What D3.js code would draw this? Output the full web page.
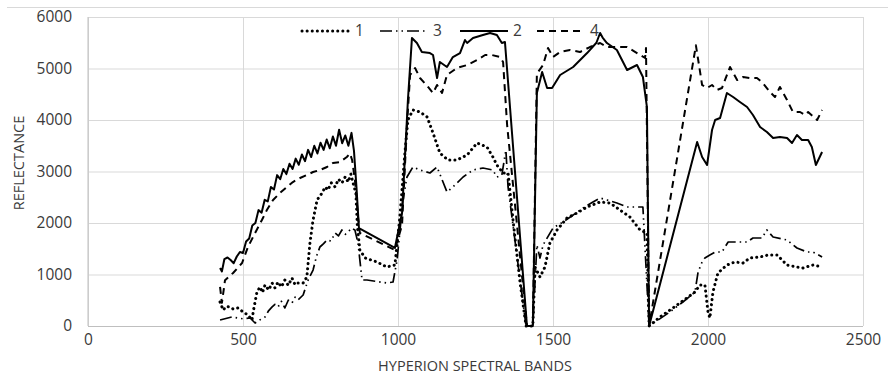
<!DOCTYPE html>
<html>
<head>
<meta charset="utf-8">
<script src="https://cdn.jsdelivr.net/npm/d3@7"></script>
<style>
  body { margin: 0; background: #fff; }
  svg text { font-family: 'Open Sans', sans-serif; fill: #3a3a3a; }
</style>
</head>
<body>
<svg id="chart" width="888" height="376"></svg>
<script>
// series: [wavelength, reflectance]
const series1 = [[426,466],[436,310],[446,380],[458,370],[468,330],[484,350],[500,272],[516,214],[529,116],[534,310],[545,660],[555,757],[563,650],[571,796],[583,700],[594,835],[603,740],[613,854],[624,760],[635,893],[646,790],[658,932],[668,800],[677,835],[694,835],[706,951],[716,1612],[726,2058],[739,2447],[755,2582],[765,2700],[774,2641],[785,2780],[797,2700],[808,2850],[819,2777],[830,2900],[839,2796],[848,2950],[855,2777],[864,2582],[869,1922],[877,1476],[894,1320],[932,1243],[964,1146],[990,1184],[1006,2117],[1023,3417],[1032,4000],[1048,4194],[1071,4155],[1094,4058],[1113,3747],[1135,3359],[1161,3223],[1190,3223],[1223,3320],[1255,3553],[1287,3476],[1306,3282],[1319,3126],[1339,2971],[1355,2971],[1371,2058],[1394,835],[1413,0],[1435,0],[1442,1146],[1458,951],[1474,1146],[1490,1612],[1513,1864],[1545,2097],[1577,2194],[1610,2311],[1652,2408],[1684,2388],[1716,2252],[1748,2117],[1781,1864],[1803,1806],[1810,0],[1845,175],[1887,350],[1932,544],[1958,660],[1974,796],[1990,796],[2000,272],[2006,155],[2016,660],[2032,1029],[2061,1184],[2087,1243],[2113,1223],[2135,1320],[2168,1340],[2194,1379],[2223,1379],[2255,1184],[2287,1146],[2306,1126],[2339,1184],[2368,1146]]

const series2 = [[426,1126],[432,1060],[440,1300],[450,1330],[460,1280],[470,1220],[480,1350],[490,1437],[500,1417],[510,1640],[520,1700],[530,1950],[540,2000],[550,2250],[560,2200],[570,2450],[580,2420],[590,2700],[600,2650],[610,2930],[620,2850],[630,3050],[640,2950],[650,3150],[660,3050],[670,3250],[680,3130],[690,3330],[700,3200],[710,3420],[720,3280],[730,3500],[740,3350],[750,3560],[760,3420],[770,3620],[780,3450],[790,3680],[800,3500],[810,3810],[820,3550],[830,3700],[840,3500],[850,3750],[858,3400],[866,2700],[874,1900],[990,1515],[1013,2194],[1032,4388],[1045,5592],[1061,5495],[1077,5320],[1103,5300],[1113,5262],[1126,4815],[1135,5126],[1158,5029],[1177,5223],[1200,5300],[1216,5553],[1223,5495],[1242,5592],[1274,5650],[1297,5689],[1319,5650],[1335,5495],[1345,5514],[1416,0],[1435,0],[1448,4524],[1465,4932],[1481,4621],[1497,4621],[1523,4874],[1565,5029],[1610,5300],[1640,5500],[1652,5689],[1660,5600],[1674,5495],[1706,5359],[1739,4971],[1771,5068],[1790,4835],[1803,4252],[1810,0],[1965,3573],[1981,3282],[1997,3126],[2013,3806],[2023,4000],[2039,4039],[2061,4524],[2081,4447],[2103,4350],[2126,4252],[2145,4097],[2168,3864],[2190,3767],[2210,3650],[2232,3670],[2255,3650],[2271,3553],[2287,3709],[2303,3612],[2323,3612],[2335,3476],[2348,3126],[2368,3379]]

const series3 = [[426,116],[464,175],[500,140],[523,155],[539,58],[555,120],[571,175],[583,300],[594,370],[603,420],[613,370],[624,480],[635,350],[646,500],[658,446],[668,560],[677,505],[694,602],[710,893],[726,1087],[737,1350],[748,1534],[760,1600],[771,1670],[784,1650],[797,1806],[808,1750],[819,1864],[830,1780],[839,1825],[850,1900],[861,1864],[871,1612],[884,893],[900,893],[964,835],[984,854],[997,1282],[1016,2447],[1029,2893],[1048,3087],[1071,3029],[1103,2971],[1126,3087],[1158,2602],[1177,2700],[1210,2893],[1242,3029],[1274,3068],[1306,3029],[1319,2893],[1335,2932],[1348,3417],[1355,2700],[1413,0],[1435,0],[1448,1573],[1458,1320],[1468,1573],[1500,1903],[1532,2019],[1565,2155],[1597,2291],[1629,2408],[1652,2485],[1674,2447],[1706,2388],[1739,2311],[1765,2311],[1790,2311],[1810,0],[1877,272],[1919,466],[1958,660],[1968,1048],[1981,1243],[1990,1320],[2006,1379],[2023,1437],[2045,1437],[2065,1631],[2094,1631],[2126,1631],[2145,1709],[2174,1709],[2190,1864],[2210,1728],[2255,1670],[2287,1515],[2319,1437],[2339,1437],[2368,1340]]

const series4 = [[426,760],[432,450],[442,890],[468,1030],[497,1223],[516,1534],[539,1806],[561,2058],[577,2252],[597,2447],[619,2582],[642,2700],[661,2796],[684,2874],[706,2932],[726,2990],[748,3029],[771,3087],[790,3165],[813,3184],[835,3282],[845,3350],[852,3223],[861,2835],[871,2117],[877,1806],[990,1476],[1013,1960],[1029,3903],[1039,4874],[1055,5010],[1071,4815],[1097,4641],[1113,4524],[1126,4680],[1142,4524],[1158,4874],[1190,5010],[1223,5068],[1255,5165],[1281,5262],[1303,5262],[1329,5223],[1339,5126],[1352,3903],[1416,0],[1435,0],[1448,4900],[1468,5068],[1484,5398],[1500,5223],[1523,5320],[1555,5359],[1587,5320],[1619,5417],[1652,5495],[1674,5417],[1706,5417],[1739,5417],[1771,5300],[1797,5204],[1800,5398],[1810,0],[1961,5450],[1981,4680],[1997,4621],[2013,4680],[2029,4583],[2045,4621],[2071,5029],[2094,4777],[2113,4835],[2135,4815],[2158,4815],[2177,4718],[2200,4544],[2216,4447],[2232,4641],[2255,4388],[2274,4155],[2297,4155],[2313,4097],[2323,4155],[2352,4000],[2368,4194]]

const xTicks = [0, 500, 1000, 1500, 2000, 2500]
const yTicks = [0, 1000, 2000, 3000, 4000, 5000, 6000]
const legendNames = ['1', '3', '2', '4']

const svg = d3.select('#chart')
let x = d3.scaleLinear().domain([0, 2500]).range([88, 863])
let y = d3.scaleLinear().domain([0, 6000]).range([326, 17])

// top frame line
svg.append('line').attr('x1', 7).attr('x2', 888).attr('y1', 7.5).attr('y2', 7.5)
  .attr('stroke', '#d9d9d9')

// gridlines
let gx = svg.append('g').attr('transform', 'translate(0,' + 326 + ')')
  .call(d3.axisBottom(x).tickValues(xTicks).tickSize(-309).tickFormat(''))
gx.select('.domain').remove()
gx.selectAll('line').attr('stroke', '#d9d9d9')
let gy = svg.append('g').attr('transform', 'translate(88,0)')
  .call(d3.axisLeft(y).tickValues(yTicks).tickSize(-775).tickFormat(''))
gy.select('.domain').remove()
gy.selectAll('line').attr('stroke', '#d9d9d9')

// axis lines
svg.append('line').attr('x1', 88).attr('x2', 88).attr('y1', y(6000)).attr('y2', y(0)).attr('stroke', '#bfbfbf')
svg.append('line').attr('x1', 88).attr('x2', 863).attr('y1', y(0) + 0.5).attr('y2', y(0) + 0.5).attr('stroke', '#bfbfbf')

// tick labels
let fmt = d3.format('d')
let ax = svg.append('g').attr('transform', 'translate(0,326)')
  .call(d3.axisBottom(x).tickValues(xTicks).tickFormat(fmt).tickSize(0).tickPadding(8))
ax.select('.domain').remove()
ax.selectAll('text').attr('font-size', '15.5px').attr('fill', '#3a3a3a').attr('font-family', 'Open Sans')
let ay = svg.append('g').attr('transform', 'translate(88,0)')
  .call(d3.axisLeft(y).tickValues(yTicks).tickFormat(fmt).tickSize(0).tickPadding(16))
ay.select('.domain').remove()
ay.selectAll('text').attr('font-size', '15.5px').attr('fill', '#3a3a3a').attr('font-family', 'Open Sans')

svg.append('text').attr('x', 475).attr('y', 371).attr('text-anchor', 'middle')
  .attr('font-size', '14.5px').text('HYPERION SPECTRAL BANDS')
svg.append('text').attr('transform', 'translate(24,163) rotate(-90)').attr('text-anchor', 'middle')
  .attr('font-size', '14.5px').text('REFLECTANCE')

// line styles: 1 dotted, 3 dash-dot-dot, 2 solid, 4 dashed
const styles = {
  '1': { w: 3, dash: '0.1,5', cap: 'round' },
  '3': { w: 1.7, dash: '12,4,1.5,4,1.5,4', cap: 'butt' },
  '2': { w: 2, dash: null, cap: 'butt' },
  '4': { w: 2, dash: '7,5', cap: 'butt' }
}
const seriesByName = { '1': series1, '3': series3, '2': series2, '4': series4 }

let line = d3.line()
  .x(function (d) { return x(d[0]) })
  .y(function (d) { return y(d[1]) })

legendNames.forEach(function (n) {
  let st = styles[n]
  svg.append('path').datum(seriesByName[n])
    .attr('d', line)
    .attr('fill', 'none')
    .attr('stroke', '#000')
    .attr('stroke-width', st.w)
    .attr('stroke-linecap', st.cap)
    .attr('stroke-linejoin', 'round')
    .attr('stroke-dasharray', st.dash)
})

// legend
const legendX = [302, 380, 460, 537]
let lg = svg.append('g')
legendNames.forEach(function (n, i) {
  let st = styles[n]
  lg.append('line').attr('x1', legendX[i]).attr('x2', legendX[i] + 48)
    .attr('y1', 31).attr('y2', 31)
    .attr('stroke', '#000').attr('stroke-width', st.w)
    .attr('stroke-linecap', st.cap).attr('stroke-dasharray', st.dash)
  lg.append('text').attr('x', legendX[i] + 53).attr('y', 36)
    .attr('font-size', '15.5px').text(n)
})
</script>
</body>
</html>
